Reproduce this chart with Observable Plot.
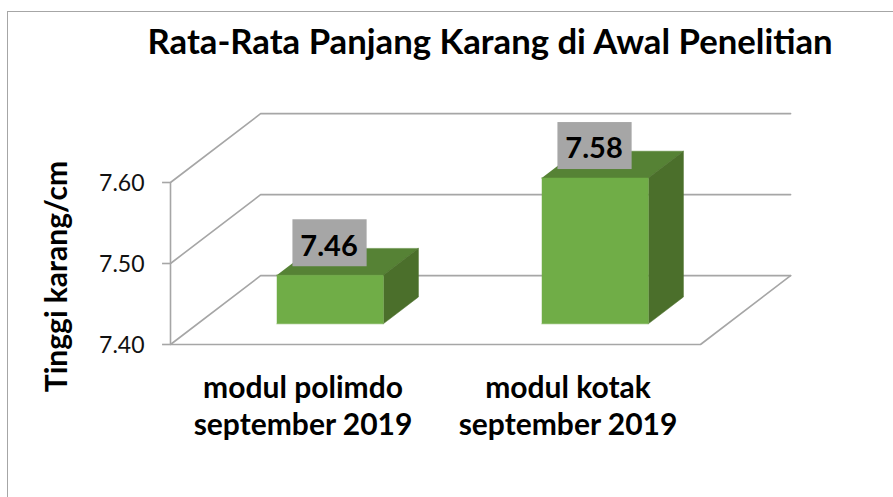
<!DOCTYPE html>
<html>
<head>
<meta charset="utf-8">
<style>
html,body{margin:0;padding:0;background:#fff;overflow:hidden}
#wrap{position:relative;width:893px;height:497px}
#border{position:absolute;left:7px;top:11px;right:0;bottom:0;border-top:1.5px solid #a6a6a6;border-left:1.5px solid #a6a6a6}
svg{display:block;position:absolute;left:0;top:0;background:transparent}
</style>
<script src="https://cdn.jsdelivr.net/npm/d3@7"></script>
<script src="https://cdn.jsdelivr.net/npm/@observablehq/plot@0.6"></script>
</head>
<body>
<div id="wrap"><div id="border"></div></div>
<script>
const categories = ["modul polimdo\nseptember 2019", "modul kotak\nseptember 2019"];
const values = [7.46, 7.58];
const yTicks = [7.4, 7.5, 7.6];
const titleText = "Rata-Rata Panjang Karang di Awal Penelitian";
const yLabel = "Tinggi karang/cm";

// Oblique projection: depth 0 = front plane, depth 1 = back wall, in data units.
const depthX = 0.34, depthY = 0.085;
const baseValue = 7.4;
const barWidth = 0.402, barFront = 0.3, barBack = 0.69;
const plateHalfX = 0.14, plateHalfY = 0.029, plateLift = 0.0395;
const P = (cx, v, d) => ({x: cx + d * depthX, y: v + d * depthY});
const poly = (id, fill, pts) => pts.map(p => ({id, fill, ...p}));

const gridLines = [];
yTicks.forEach(t => {
  gridLines.push(...poly("g" + t, null, [P(0, t, 0), P(0, t, 1), P(2, t, 1)]));
});
gridLines.push(...poly("wall", null, [P(0, 7.6, 0), P(0, 7.4, 0), P(2, 7.4, 0), P(2, 7.4, 1)]));

const faces = [];
values.forEach((v, i) => {
  const a = i + 0.5 - barWidth / 2, b = i + 0.5 + barWidth / 2;
  faces.push(...poly("top" + i, "#568235", [P(a, v, barFront), P(b, v, barFront), P(b, v, barBack), P(a, v, barBack)]));
  faces.push(...poly("side" + i, "#4b6f2b", [P(b, baseValue, barFront), P(b, baseValue, barBack), P(b, v, barBack), P(b, v, barFront)]));
  faces.push(...poly("front" + i, "#70ad47", [P(a, baseValue, barFront), P(b, baseValue, barFront), P(b, v, barFront), P(a, v, barFront)]));
});

const labels = values.map((v, i) => {
  const p = P(i + 0.5, v + plateLift, barFront);
  return {x: p.x, y: p.y, text: v.toFixed(2)};
});
const cats = categories.map((c, i) => ({x: i + 0.5, y: baseValue, text: c}));

const font = "Lato, 'Open Sans', sans-serif";
const chart = Plot.plot({
  width: 893,
  height: 497,
  marginTop: 0, marginBottom: 0, marginLeft: 0, marginRight: 0,
  style: {fontFamily: font, background: "transparent"},
  x: {domain: [0, 2], range: [170, 700], axis: null},
  y: {domain: [7.4, 7.6], range: [344, 182], axis: null},
  marks: [
    Plot.line(gridLines, {x: "x", y: "y", z: "id", stroke: "#a6a6a6", strokeWidth: 1.6}),
    Plot.ruleY(yTicks, {x1: -0.03, x2: 0, stroke: "#a6a6a6", strokeWidth: 1.6}),
    Plot.line(faces, {x: "x", y: "y", z: "id", fill: "fill", stroke: "fill", strokeWidth: 0.5}),
    Plot.text(yTicks, {x: 0, y: d => d, text: d => d.toFixed(2), textAnchor: "end", dx: -26, dy: 1, fontSize: 23, fill: "#111"}),
    Plot.text(cats, {x: "x", y: "y", text: "text", dy: 60, lineHeight: 1.23, fontSize: 30, fontWeight: 700, fill: "#000", lineAnchor: "middle"}),
    Plot.text([yLabel], {x: 0, y: 7.5, text: d => d, rotate: -90, dx: -113, dy: 13, fontSize: 30, fontWeight: 700, fill: "#000"}),
    Plot.text([titleText], {frameAnchor: "top-left", text: d => d, dx: 147, dy: 42, fontSize: 34.7, fontWeight: 700, fill: "#000", textAnchor: "start", lineAnchor: "middle"}),
    Plot.rect(labels, {x1: d => d.x - plateHalfX, x2: d => d.x + plateHalfX, y1: d => d.y - plateHalfY, y2: d => d.y + plateHalfY, fill: "#a6a6a6"}),
    Plot.text(labels, {x: "x", y: "y", text: "text", dx: -1, dy: 3, fontSize: 29, fontWeight: 700, fill: "#000"})
  ]
});
document.getElementById("wrap").appendChild(chart);
</script>
</body>
</html>
